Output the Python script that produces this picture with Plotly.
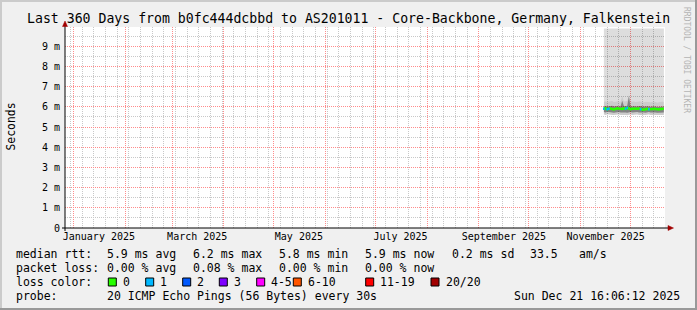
import plotly.graph_objects as go
import pandas as pd
from datetime import datetime, timedelta

# ---------------- data ----------------
range_start = datetime(2024, 12, 26, 16, 6, 12)
range_end = datetime(2025, 12, 21, 16, 6, 12)

days = pd.date_range("2025-11-15", "2025-12-21", freq="D")

median_ms = [5.90, 5.92, 5.88, 5.90, 5.91, 5.89, 5.87, 5.90, 5.93, 5.91, 5.90, 5.89,
             5.92, 5.90, 5.95, 5.91, 5.88, 5.90, 5.89, 5.91, 5.90, 5.92, 5.88, 5.87,
             5.86, 5.89, 5.90, 5.88, 5.87, 5.89, 5.90, 5.88, 5.86, 5.87, 5.89, 5.91, 5.90]
loss = [1, 0, 1, 1, 0, 0, 0, 0, 0, 0, 0, 0, 0, 1, 1, 0, 0, 0, 0, 0, 0, 0, 1, 0,
        0, 0, 0, 1, 0, 0, 0, 0, 0, 0, 0, 0, 0]
smoke_lo_outer = [5.62, 5.60, 5.63, 5.61, 5.62, 5.60, 5.59, 5.61, 5.63, 5.62, 5.60, 5.61,
                  5.62, 5.60, 5.58, 5.61, 5.62, 5.60, 5.61, 5.63, 5.62, 5.60, 5.61, 5.62,
                  5.60, 5.59, 5.61, 5.62, 5.60, 5.61, 5.62, 5.60, 5.59, 5.60, 5.61, 5.62, 5.60]
smoke_lo_inner = [5.74, 5.72, 5.75, 5.73, 5.74, 5.72, 5.71, 5.73, 5.75, 5.74, 5.72, 5.73,
                  5.74, 5.72, 5.70, 5.73, 5.74, 5.72, 5.73, 5.75, 5.74, 5.72, 5.73, 5.74,
                  5.72, 5.71, 5.73, 5.74, 5.72, 5.73, 5.74, 5.72, 5.71, 5.72, 5.73, 5.74, 5.72]
smoke_hi_inner = [6.02, 6.04, 6.01, 6.03, 6.02, 6.05, 6.01, 6.03, 6.04, 6.02, 6.03, 6.30,
                  6.04, 6.03, 6.05, 6.52, 6.03, 6.02, 6.04, 6.01, 6.03, 6.02, 6.04, 6.01,
                  6.00, 6.02, 6.03, 6.01, 6.00, 6.02, 6.03, 6.01, 5.99, 6.00, 6.02, 6.03, 6.02]
smoke_hi_outer = [6.25, 6.28, 6.24, 6.26, 6.25, 6.30, 6.24, 6.27, 6.28, 6.25, 6.26, 6.55,
                  6.28, 6.27, 6.30, 6.62, 6.27, 6.25, 6.28, 6.24, 6.26, 6.25, 6.28, 6.24,
                  6.22, 6.25, 6.26, 6.24, 6.22, 6.25, 6.26, 6.24, 6.21, 6.22, 6.25, 6.26, 6.25]
smoke_max_ms = [9.88, 9.88, 9.88, 9.88, 9.88, 9.88, 9.88, 9.88, 9.88, 9.88, 9.88, 9.88,
                9.88, 9.88, 9.88, 9.88, 9.88, 9.88, 9.88, 9.88, 9.88, 9.88, 9.88, 9.88,
                9.88, 9.88, 9.88, 9.88, 9.88, 9.88, 9.88, 9.88, 9.88, 9.88, 9.88, 9.88, 9.88]

y_tick_vals_ms = [0, 1, 2, 3, 4, 5, 6, 7, 8, 9]
y_tick_text = ["0", "1 m", "2 m", "3 m", "4 m", "5 m", "6 m", "7 m", "8 m", "9 m"]
y_minor_ms = [0.5, 1.5, 2.5, 3.5, 4.5, 5.5, 6.5, 7.5, 8.5, 9.5]

month_starts = ["2025-01-01", "2025-02-01", "2025-03-01", "2025-04-01", "2025-05-01",
                "2025-06-01", "2025-07-01", "2025-08-01", "2025-09-01", "2025-10-01",
                "2025-11-01", "2025-12-01"]
week_starts = pd.date_range("2024-12-30", "2025-12-21", freq="7D")
x_label_pos = ["2025-01-16", "2025-03-16", "2025-05-16", "2025-07-16", "2025-09-16", "2025-11-16"]
x_label_text = ["January 2025", "March 2025", "May 2025", "July 2025",
                "September 2025", "November 2025"]

title_text = "Last 360 Days from b0fc444dcbbd to AS201011 - Core-Backbone, Germany, Falkenstein"
rtt_stats = ["5.9 ms avg", "6.2 ms max", "5.8 ms min", "5.9 ms now", "0.2 ms sd", "33.5", "am/s"]
loss_stats = ["0.00 % avg", "0.08 % max", "0.00 % min", "0.00 % now"]
loss_labels = ["0", "1", "2", "3", "4-5", "6-10", "11-19", "20/20"]
loss_colors = ["#26ff00", "#00b8ff", "#0059ff", "#7e00ff", "#ff00ff", "#ff5500", "#ff0000", "#a10000"]
probe_text = "20 ICMP Echo Pings (56 Bytes) every 30s"
timestamp_text = "Sun Dec 21 16:06:12 2025"

# ---------------- layout geometry ----------------
W, H = 697, 310
L, R, T, B = 65, 32, 27, 82
PW = W - L - R
PH = H - T - B
Y_TOP_MS = PH / 20.2


def px(x):
    return (x - L) / PW


def py(y):
    return (H - B - y) / PH


MONO = "DejaVu Sans Mono"
ms = lambda arr: [v / 1000.0 for v in arr]

fig = go.Figure()

# smoke bands
fig.add_trace(go.Scatter(x=days, y=ms(smoke_lo_outer), mode="lines", line=dict(width=0),
                         hoverinfo="skip", showlegend=False))
fig.add_trace(go.Scatter(x=days, y=ms(smoke_hi_outer), mode="lines", line=dict(width=0),
                         fill="tonexty", fillcolor="rgba(0,0,0,0.20)", hoverinfo="skip",
                         showlegend=False))
fig.add_trace(go.Scatter(x=days, y=ms(smoke_max_ms), mode="lines", line=dict(width=0),
                         fill="tonexty", fillcolor="rgba(0,0,0,0.135)", hoverinfo="skip",
                         showlegend=False))
fig.add_trace(go.Scatter(x=days, y=ms(smoke_lo_inner), mode="lines", line=dict(width=0),
                         hoverinfo="skip", showlegend=False))
fig.add_trace(go.Scatter(x=days, y=ms(smoke_hi_inner), mode="lines", line=dict(width=0),
                         fill="tonexty", fillcolor="rgba(0,0,0,0.36)", hoverinfo="skip",
                         showlegend=False))

# median line (loss 0 colour everywhere, overdrawn per loss class)
fig.add_trace(go.Scatter(x=days, y=ms(median_ms), mode="lines",
                         line=dict(color=loss_colors[0], width=2.5), hoverinfo="skip",
                         showlegend=False))
for cls in sorted(set(loss)):
    if cls == 0:
        continue
    xs, ys = [], []
    for d, m, l in zip(days, median_ms, loss):
        if l == cls:
            xs += [d - timedelta(hours=12), d + timedelta(hours=12), None]
            ys += [m / 1000.0, m / 1000.0, None]
    fig.add_trace(go.Scatter(x=xs, y=ys, mode="lines",
                             line=dict(color=loss_colors[cls], width=2.5),
                             hoverinfo="skip", showlegend=False))

# invisible trace for label axis
fig.add_trace(go.Scatter(x=[range_start], y=[0], xaxis="x2", mode="markers",
                         marker=dict(opacity=0), hoverinfo="skip", showlegend=False))

fig.update_layout(
    width=W, height=H,
    margin=dict(l=L, r=R, t=T, b=B, pad=0),
    paper_bgcolor="#f0f0f0",
    plot_bgcolor="#ffffff",
    showlegend=False,
    xaxis=dict(
        type="date", range=[range_start, range_end],
        tickmode="array", tickvals=month_starts, showticklabels=False, ticks="",
        showgrid=True, gridcolor="#ff8c8c", griddash="1px,1px", gridwidth=1,
        minor=dict(tickmode="array", tickvals=list(week_starts), showgrid=True,
                   gridcolor="#c8c8c8", griddash="1px,1px", gridwidth=1, ticks=""),
        showline=False, zeroline=False, fixedrange=True,
    ),
    xaxis2=dict(
        type="date", range=[range_start, range_end], overlaying="x", anchor="y",
        side="bottom", tickmode="array", tickvals=x_label_pos, ticktext=x_label_text,
        showgrid=False, ticks="", showline=False, zeroline=False,
        tickfont=dict(family=MONO, size=10, color="#000000"), ticklabelstandoff=1,
    ),
    yaxis=dict(
        range=[0, Y_TOP_MS / 1000.0],
        tickmode="array", tickvals=ms(y_tick_vals_ms), ticktext=y_tick_text,
        showgrid=True, gridcolor="#ff8c8c", griddash="1px,1px", gridwidth=1,
        minor=dict(tickmode="array", tickvals=ms(y_minor_ms), showgrid=True,
                   gridcolor="#c8c8c8", griddash="1px,1px", gridwidth=1, ticks=""),
        ticks="", showline=False, zeroline=False,
        tickfont=dict(family=MONO, size=10, color="#000000"), ticklabelstandoff=4,
    ),
)

shapes = []
# 3D border
shapes.append(dict(type="rect", xref="paper", yref="paper", x0=px(0), x1=px(W), y0=py(0), y1=py(2),
                   fillcolor="#cbcbcb", line=dict(width=0), layer="above"))
shapes.append(dict(type="rect", xref="paper", yref="paper", x0=px(0), x1=px(2), y0=py(0), y1=py(H),
                   fillcolor="#cbcbcb", line=dict(width=0), layer="above"))
shapes.append(dict(type="rect", xref="paper", yref="paper", x0=px(0), x1=px(W), y0=py(H - 2), y1=py(H),
                   fillcolor="#999999", line=dict(width=0), layer="above"))
shapes.append(dict(type="rect", xref="paper", yref="paper", x0=px(W - 2), x1=px(W), y0=py(0), y1=py(H),
                   fillcolor="#999999", line=dict(width=0), layer="above"))
# axes
shapes.append(dict(type="line", xref="paper", yref="paper", x0=px(65), x1=px(65), y0=py(231), y1=py(24),
                   line=dict(color="#000000", width=1), layer="above"))
shapes.append(dict(type="line", xref="paper", yref="paper", x0=px(62), x1=px(669), y0=py(228), y1=py(228),
                   line=dict(color="#000000", width=1), layer="above"))
# arrows
shapes.append(dict(type="path", xref="paper", yref="paper",
                   path="M {} {} L {} {} L {} {} Z".format(px(62.5), py(26.5), px(67.5), py(26.5), px(65), py(21)),
                   fillcolor="#a10000", line=dict(color="#a10000", width=0.5), layer="above"))
shapes.append(dict(type="path", xref="paper", yref="paper",
                   path="M {} {} L {} {} L {} {} Z".format(px(668), py(225.5), px(668), py(230.5), px(673.5), py(228)),
                   fillcolor="#a10000", line=dict(color="#a10000", width=0.5), layer="above"))

annotations = []


def text(x, y, s, size=11.5, xanchor="left", color="#000000", angle=0):
    annotations.append(dict(x=px(x), y=py(y), xref="paper", yref="paper", text=s, showarrow=False,
                            xanchor=xanchor, yanchor="middle", textangle=angle, borderpad=0,
                            borderwidth=0,
                            font=dict(family=MONO, size=size, color=color)))


text(348.5, 19, title_text, size=13.2, xanchor="center")
text(10.5, 127, "Seconds", size=11.4, xanchor="center", angle=-90)
text(687, 60, "RRDTOOL / TOBI OETIKER", size=8, xanchor="center", angle=90, color="#b4b4b4")

row_y = [254, 268, 282, 296]
text(16, row_y[0], "median rtt:")
for xpos, s in zip([107.3, 193.3, 279.3, 365, 451.7, 530, 579.3], rtt_stats):
    text(xpos, row_y[0], s)
text(16, row_y[1], "packet loss:")
for xpos, s in zip([107.3, 193.3, 279.3, 365], loss_stats):
    text(xpos, row_y[1], s)
text(16, row_y[2], "loss color:")
box_x = [108.3, 145.7, 182.7, 219.3, 256.7, 293.3, 365.7, 431]
for bx, lab, col in zip(box_x, loss_labels, loss_colors):
    shapes.append(dict(type="rect", xref="paper", yref="paper", x0=px(bx), x1=px(bx + 8),
                       y0=py(row_y[2] - 4), y1=py(row_y[2] + 4), fillcolor=col,
                       line=dict(color="#000000", width=1), layer="above"))
    text(bx + 14.5, row_y[2], lab)
text(16, row_y[3], "probe:")
text(107.3, row_y[3], probe_text)
text(680, row_y[3], timestamp_text, xanchor="right")

fig.update_layout(shapes=shapes, annotations=annotations)
fig.write_html("out.html")
